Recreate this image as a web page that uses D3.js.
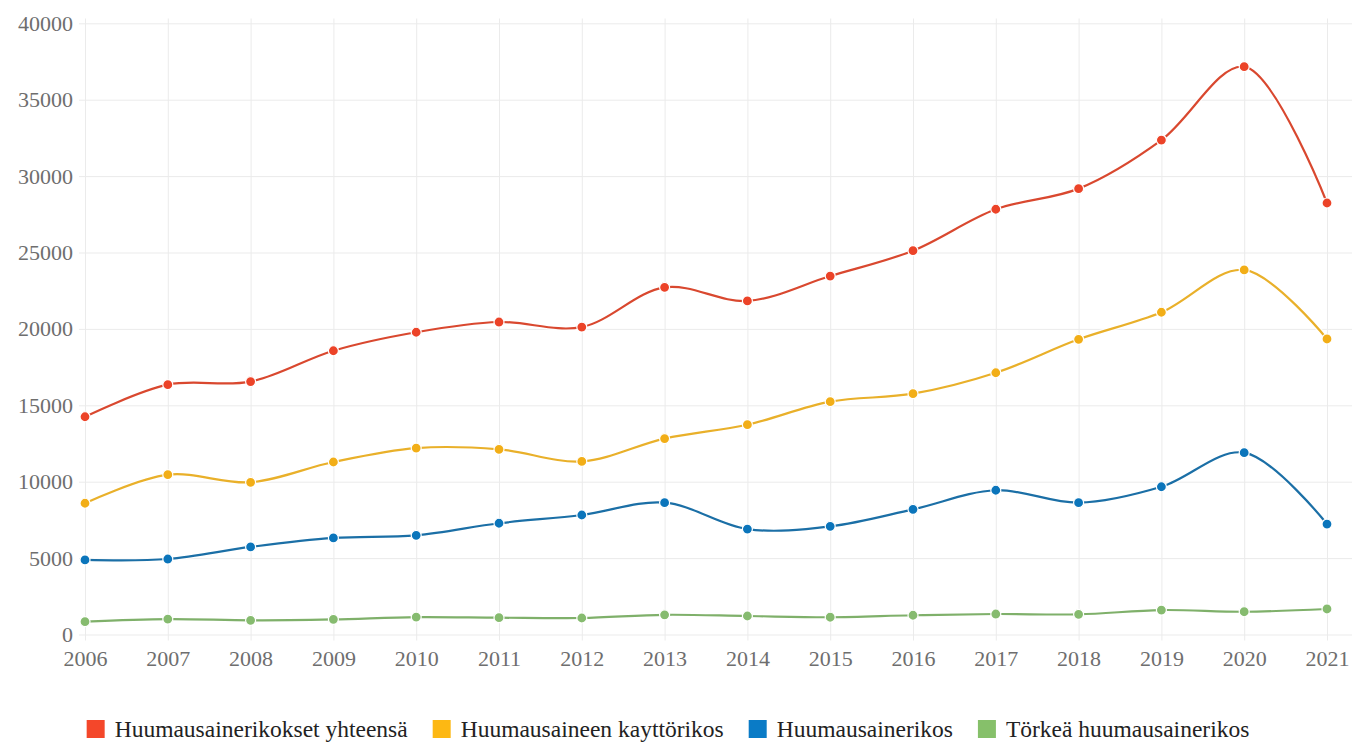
<!DOCTYPE html>
<html>
<head>
<meta charset="utf-8">
<script src="https://cdn.jsdelivr.net/npm/d3@7"></script>
<style>
    body { margin: 0; background: #fff; }
    svg { display: block; }
    .tick text { font-family: "Liberation Serif", "DejaVu Serif", serif; }
</style>
</head>
<body>
<svg width="1364" height="742"></svg>
<script>
// data
const years = [2006, 2007, 2008, 2009, 2010, 2011, 2012, 2013, 2014, 2015, 2016, 2017, 2018, 2019, 2020, 2021];
const yhteensa = [14250, 16350, 16550, 18570, 19780, 20450, 20120, 22720, 21830, 23460, 25120, 27830, 29180, 32360, 37160, 28240];
const kayttorikos = [8590, 10460, 9960, 11290, 12200, 12120, 11330, 12820, 13730, 15240, 15760, 17130, 19320, 21090, 23860, 19340];
const huumausainerikos = [4880, 4940, 5730, 6320, 6490, 7280, 7820, 8630, 6900, 7080, 8190, 9440, 8630, 9670, 11900, 7230];
const torkea = [840, 1010, 930, 990, 1140, 1100, 1080, 1290, 1210, 1130, 1260, 1340, 1320, 1600, 1490, 1670];
const yTicks = [0, 5000, 10000, 15000, 20000, 25000, 30000, 35000, 40000];

const series = [
    {name: "Huumausainerikokset yhteensä", values: yhteensa, line: "#d9482f", fill: "#ec4328", key: "#f4472a"},
    {name: "Huumausaineen kayttörikos", values: kayttorikos, line: "#e9b02a", fill: "#f2ae17", key: "#fdb813"},
    {name: "Huumausainerikos", values: huumausainerikos, line: "#1b6fa6", fill: "#0b75bb", key: "#0a7bc6"},
    {name: "Törkeä huumausainerikos", values: torkea, line: "#7fb06a", fill: "#86bb6f", key: "#86c06a"}
];

let svg = d3.select("svg");
const font = '"Liberation Serif", "DejaVu Serif", serif';

let x = d3.scaleLinear().domain([2006, 2021]).range([85, 1327]);
let y = d3.scaleLinear().domain([0, 40000]).range([634.5, 23.3]);

// horizontal grid + y labels
let yAxis = svg.append("g")
    .attr("transform", "translate(85,0)")
    .call(d3.axisLeft(y).tickValues(yTicks).tickSize(-1267).tickSizeOuter(0).tickPadding(12).tickFormat(d3.format("d")));
yAxis.select(".domain").remove();
yAxis.selectAll(".tick line").attr("stroke", "#ebebeb").attr("x1", -6);
yAxis.selectAll(".tick text").attr("fill", "#6e6e6e").style("font-size", "22px");

// vertical grid + x labels
let xAxis = svg.append("g")
    .attr("transform", "translate(0,634.5)")
    .call(d3.axisBottom(x).tickValues(years).tickSize(-616).tickSizeOuter(0).tickPadding(16).tickFormat(d3.format("d")));
xAxis.select(".domain").remove();
xAxis.selectAll(".tick line").attr("stroke", "#ebebeb").attr("y1", 6);
xAxis.selectAll(".tick text").attr("fill", "#6e6e6e").style("font-size", "22px");

let line = d3.line()
    .x((d, i) => x(years[i]))
    .y(d => y(d))
    .curve(d3.curveCatmullRom.alpha(0.5));

series.forEach(function (s) {
    let g = svg.append("g");
    g.append("path")
        .attr("d", line(s.values))
        .attr("fill", "none")
        .attr("stroke", "#fff")
        .attr("stroke-opacity", 0.8)
        .attr("stroke-width", 5);
    g.append("path")
        .attr("d", line(s.values))
        .attr("fill", "none")
        .attr("stroke", s.line)
        .attr("stroke-width", 2.2);
    g.selectAll("circle")
        .data(s.values)
        .enter()
        .append("circle")
        .attr("cx", (d, i) => x(years[i]))
        .attr("cy", d => y(d))
        .attr("r", 5)
        .attr("fill", s.fill)
        .attr("stroke", "#fff")
        .attr("stroke-width", 1.2);
});

// legend
let legend = svg.append("g");
let items = legend.selectAll("g")
    .data(series)
    .enter()
    .append("g");
items.append("rect")
    .attr("width", 18)
    .attr("height", 18)
    .attr("y", 720)
    .attr("fill", d => d.key);
items.append("text")
    .attr("x", 28)
    .attr("y", 737)
    .attr("fill", "#222")
    .style("font-family", font)
    .style("font-size", "23.5px")
    .text(d => d.name);

let pos = 0;
let offsets = [];
items.each(function () {
    offsets.push(pos);
    pos += 28 + this.querySelector("text").getComputedTextLength() + 25;
});
let total = pos - 25;
let start = 668 - total / 2;
items.attr("transform", (d, i) => "translate(" + (start + offsets[i]) + ",0)");
</script>
</body>
</html>
